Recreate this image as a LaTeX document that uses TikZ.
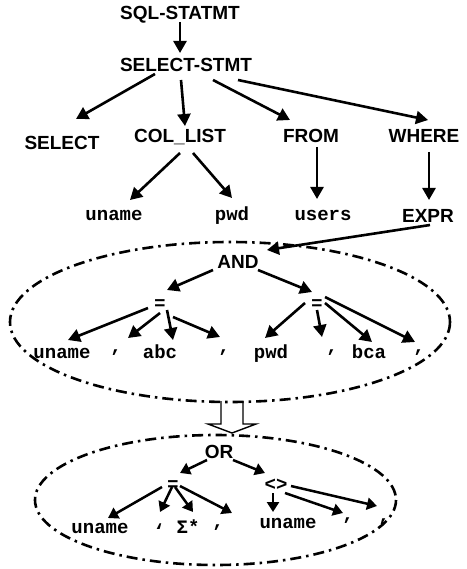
\documentclass[tikz,border=0pt]{standalone}
\usepackage{fontspec}
\setmainfont{Liberation Sans}
\newfontfamily\monofam{Liberation Mono}
\usetikzlibrary{arrows.meta}
\tikzset{
  lab/.style={font=\fontsize{19}{22}\selectfont\bfseries, inner sep=0pt, anchor=base},
  mon/.style={font=\monofam\fontsize{19}{22}\selectfont\bfseries, inner sep=0pt, anchor=base},
  arr/.style={line width=2.6pt, -{Triangle[length=12pt,width=13pt]}},
  sarr/.style={line width=2.5pt, -{Triangle[length=10pt,width=12pt]}},
  region/.style={line width=2.6pt, dash pattern=on 11pt off 5pt on 2.5pt off 5pt},
}
\begin{document}
\begin{tikzpicture}[x=1pt,y=-1pt]
\useasboundingbox (0,0) rectangle (466,569);
% nodes
\node[lab] (sql) at (180,20) {SQL-STATMT};
\node[lab] (ss) at (186,72) {SELECT-STMT};
\node[lab] (sel) at (62,150) {SELECT};
\node[lab] (col) at (180,143) {COL\_LIST};
\node[lab] (from) at (311,143) {FROM};
\node[lab] (where) at (424,143) {WHERE};
\node[mon] (u1) at (114,220) {uname};
\node[mon] (p1) at (232,220) {pwd};
\node[mon] (us) at (323,220) {users};
\node[lab] (expr) at (428,222) {EXPR};
\node[lab] (and) at (238,268) {AND};
\node[lab] (eqL) at (160,309) {=};
\node[lab] (eqR) at (317,309) {=};
\node[mon] (u2) at (62,358) {uname};
\node[mon] (q1) at (115,363) {’};
\node[mon] (abc) at (160,358) {abc};
\node[mon] (q2) at (223,363) {’};
\node[mon] (p2) at (271,358) {pwd};
\node[mon] (q3) at (331,363) {’};
\node[mon] (bca) at (369,358) {bca};
\node[mon] (q4) at (418,363) {’};
\node[lab] (or) at (219,458) {OR};
\node[lab] (eq2) at (173,490) {=};
\node[mon] (ne) at (276,490) {<>};
\node[mon] (u3) at (100,533) {uname};
\node[mon] (q5) at (159,537) {‘};
\node[mon] (sig) at (188,533) {Σ*};
\node[mon] (q6) at (217,538) {’};
\node[mon] (u4) at (288,528) {uname};
\node[mon] (q7) at (347,531) {’};
\node[mon] (q8) at (383,532) {’};
% regions
\draw[region] (230,322) ellipse [x radius=220, y radius=80];
\draw[region] (215.5,500) ellipse [x radius=180.5, y radius=65];
\draw[line width=1.4pt, line join=miter] (221,401) -- (221,424) -- (208,424) -- (232,433) -- (256,424) -- (243,424) -- (243,401);
% connectors
\draw[arr] ([shift={(0,2)}]sql.base) -- ([shift={(-6,-19)}]ss.base);
\draw[arr] ([shift={(-31,2)}]ss.base) -- ([shift={(14,-31)}]sel.base);
\draw[arr] ([shift={(-5,8)}]ss.base) -- ([shift={(5,-17)}]col.base);
\draw[arr] ([shift={(27,8)}]ss.base) -- ([shift={(-21,-23)}]from.base);
\draw[arr] ([shift={(52,8)}]ss.base) -- ([shift={(4,-23)}]where.base);
\draw[arr] ([shift={(0,10)}]col.base) -- ([shift={(16,-20)}]u1.base);
\draw[arr] ([shift={(13,10)}]col.base) -- ([shift={(0,-22)}]p1.base);
\draw[arr] ([shift={(6,4)}]from.base) -- ([shift={(-6,-21)}]us.base);
\draw[arr] ([shift={(5,9)}]where.base) -- ([shift={(1,-22)}]expr.base);
\draw[arr] ([shift={(2,3)}]expr.base) -- ([shift={(29,-18)}]and.base);
\draw[arr] ([shift={(-25,2)}]and.base) -- ([shift={(7,-19)}]eqL.base);
\draw[arr] ([shift={(20,2)}]and.base) -- ([shift={(-5,-17)}]eqR.base);
\draw[arr] ([shift={(-12,-1)}]eqL.base) -- ([shift={(6,-18)}]u2.base);
\draw[arr] ([shift={(0,4)}]eqL.base) -- ([shift={(13,-25)}]q1.base);
\draw[arr] ([shift={(7,1)}]eqL.base) -- ([shift={(13,-18)}]abc.base);
\draw[arr] ([shift={(13,8)}]eqL.base) -- ([shift={(-3,-26)}]q2.base);
\draw[arr] ([shift={(-12,-6)}]eqR.base) -- ([shift={(-6,-20)}]p2.base);
\draw[arr] ([shift={(0,1)}]eqR.base) -- ([shift={(-9,-26)}]q3.base);
\draw[arr] ([shift={(8,-6)}]eqR.base) -- ([shift={(3,-16)}]bca.base);
\draw[arr] ([shift={(8,-12)}]eqR.base) -- ([shift={(-3,-21)}]q4.base);
\draw[sarr] ([shift={(-12,2)}]or.base) -- ([shift={(7,-17)}]eq2.base);
\draw[sarr] ([shift={(14,2)}]or.base) -- ([shift={(-11,-17)}]ne.base);
\draw[sarr] ([shift={(-11,-3)}]eq2.base) -- ([shift={(8,-15)}]u3.base);
\draw[sarr] ([shift={(-1,-3)}]eq2.base) -- ([shift={(1,-25)}]q5.base);
\draw[sarr] ([shift={(2,-3)}]eq2.base) -- ([shift={(5,-21)}]sig.base);
\draw[sarr] ([shift={(7,-4)}]eq2.base) -- ([shift={(15,-25)}]q6.base);
\draw[sarr] ([shift={(-3,3)}]ne.base) -- ([shift={(-15,-16)}]u4.base);
\draw[sarr] ([shift={(9,3)}]ne.base) -- ([shift={(-4,-18)}]q7.base);
\draw[sarr] ([shift={(15,-4)}]ne.base) -- ([shift={(-6,-26)}]q8.base);
\end{tikzpicture}
\end{document}
